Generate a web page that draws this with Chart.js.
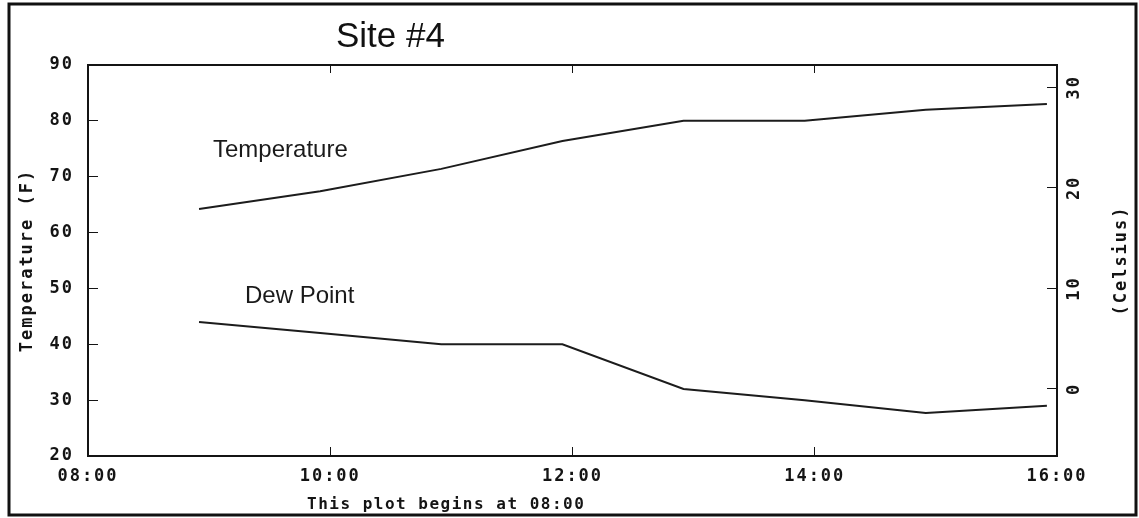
<!DOCTYPE html>
<html>
<head>
<meta charset="utf-8">
<script src="https://cdn.jsdelivr.net/npm/chart.js@4/dist/chart.umd.min.js"></script>
<style>
  html, body { margin: 0; padding: 0; background: #ffffff; }
  #wrap { width: 1139px; height: 518px; position: relative; }
  canvas { display: block; }
</style>
</head>
<body>
<div id="wrap"><canvas id="c" width="1139" height="518"></canvas></div>
<script>
// Hourly readings for Site #4
const readingTimes = ['08:55', '09:55', '10:55', '11:55', '12:55', '13:55', '14:55', '15:55'];
const temperatureF = [64.2, 67.4, 71.4, 76.4, 80, 80, 82, 83];
const dewPointF = [44, 42, 40, 40, 32, 30, 27.7, 29];

// Axis ranges and tick marks
const hourTicks = [8, 10, 12, 14, 16];
const fahrenheitRange = [20, 90];
const fahrenheitStep = 10;
const celsiusTicks = [0, 10, 20, 30];

const chartTitle = 'Site #4';
const seriesNames = ['Temperature', 'Dew Point'];
const leftAxisTitle = 'Temperature (F)';
const rightAxisTitle = '(Celsius)';
const plotCaption = 'This plot begins at 08:00';

const toHours = t => { const [h, m] = t.split(':').map(Number); return h + m / 60; };
const fToC = f => (f - 32) * 5 / 9;
const hhmm = v => String(Math.round(v)).padStart(2, '0') + ':00';

const MONO = '"DejaVu Sans Mono", monospace';
const INK = '#141414';
const SPACING = '2px';
const monoFont = { family: MONO, size: 17, weight: 'bold', lineHeight: 1.2 };

const asPoints = values => values.map((v, i) => ({ x: toHours(readingTimes[i]), y: v }));

// Frame, title, series names and captions drawn around the plot
const decorations = {
  id: 'decorations',
  beforeDraw(chart) {
    chart.ctx.letterSpacing = SPACING;
  },
  afterDraw(chart) {
    const ctx = chart.ctx;
    const area = chart.chartArea;
    ctx.save();
    // outer frame
    ctx.letterSpacing = '0px';
    ctx.strokeStyle = '#111';
    ctx.lineWidth = 3;
    ctx.strokeRect(9, 4, 1127, 511);

    ctx.fillStyle = '#111';
    ctx.textAlign = 'left';
    ctx.textBaseline = 'alphabetic';
    ctx.font = '35px "Liberation Sans", Arial, sans-serif';
    ctx.fillText(chartTitle, 336, 47);

    ctx.fillStyle = '#1a1a1a';
    ctx.font = '24px "Liberation Sans", Arial, sans-serif';
    ctx.fillText(seriesNames[0], 213, 157);
    ctx.fillText(seriesNames[1], 245, 303);

    // monospace captions
    ctx.fillStyle = INK;
    ctx.textBaseline = 'middle';
    ctx.textAlign = 'left';
    ctx.letterSpacing = '1.5px';
    ctx.font = 'bold 16px ' + MONO;
    ctx.fillText(plotCaption, 307, 505);

    ctx.letterSpacing = SPACING;
    ctx.font = 'bold 17px ' + MONO;
    ctx.translate(1122, (area.top + area.bottom) / 2);
    ctx.rotate(-Math.PI / 2);
    ctx.textAlign = 'center';
    ctx.fillText(rightAxisTitle, 0, 0);
    ctx.restore();
  }
};

const innerGrid = len => ({
  drawOnChartArea: false,
  drawTicks: true,
  tickLength: len,
  color: INK,
  lineWidth: 1
});
const frameBorder = { display: true, color: INK, width: 2 };

new Chart(document.getElementById('c'), {
  type: 'line',
  data: {
    datasets: [
      {
        label: seriesNames[0],
        data: asPoints(temperatureF),
        borderColor: '#1c1c1c',
        borderWidth: 2,
        pointRadius: 0,
        tension: 0,
        xAxisID: 'x',
        yAxisID: 'y'
      },
      {
        label: seriesNames[1],
        data: asPoints(dewPointF),
        borderColor: '#1c1c1c',
        borderWidth: 2,
        pointRadius: 0,
        tension: 0,
        xAxisID: 'x',
        yAxisID: 'y'
      }
    ]
  },
  options: {
    responsive: false,
    animation: false,
    devicePixelRatio: 1,
    layout: { padding: 0 },
    plugins: {
      legend: { display: false },
      tooltip: { enabled: false },
      title: { display: false }
    },
    scales: {
      x: {
        type: 'linear',
        position: 'bottom',
        min: hourTicks[0],
        max: hourTicks[hourTicks.length - 1],
        afterBuildTicks: s => { s.ticks = hourTicks.map(v => ({ value: v })); },
        afterFit: s => { s.height = 62; },
        grid: innerGrid(-9),
        border: frameBorder,
        ticks: {
          callback: v => hhmm(v),
          font: monoFont,
          color: INK,
          padding: 19,
          maxRotation: 0,
          autoSkip: false
        }
      },
      xTop: {
        type: 'linear',
        position: 'top',
        min: hourTicks[0],
        max: hourTicks[hourTicks.length - 1],
        afterBuildTicks: s => { s.ticks = hourTicks.map(v => ({ value: v })); },
        afterFit: s => { s.height = 65; },
        grid: innerGrid(-8),
        border: frameBorder,
        ticks: { display: false }
      },
      y: {
        type: 'linear',
        position: 'left',
        min: fahrenheitRange[0],
        max: fahrenheitRange[1],
        afterFit: s => { s.width = 88; },
        grid: innerGrid(-10),
        border: frameBorder,
        ticks: {
          stepSize: fahrenheitStep,
          font: monoFont,
          color: INK,
          padding: 24
        },
        title: {
          display: true,
          text: leftAxisTitle,
          font: monoFont,
          color: INK,
          padding: { top: 17, bottom: 0 }
        }
      },
      yC: {
        type: 'linear',
        position: 'right',
        min: fToC(fahrenheitRange[0]),
        max: fToC(fahrenheitRange[1]),
        afterBuildTicks: s => { s.ticks = celsiusTicks.map(v => ({ value: v })); },
        afterFit: s => { s.width = 82; },
        grid: innerGrid(-10),
        border: frameBorder,
        ticks: {
          callback: v => String(Math.round(v)),
          font: monoFont,
          color: INK,
          minRotation: 90,
          maxRotation: 90,
          crossAlign: 'center',
          padding: 17
        }
      }
    }
  },
  plugins: [decorations]
});
</script>
</body>
</html>
